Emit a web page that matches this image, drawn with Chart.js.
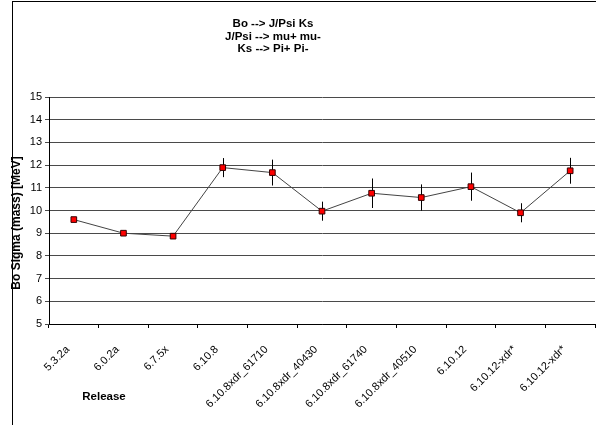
<!DOCTYPE html>
<html><head><meta charset="utf-8">
<script src="https://cdn.jsdelivr.net/npm/chart.js@4"></script>
<style>html,body{margin:0;padding:0;background:#fff;overflow:hidden}#wrap{width:600px;height:425px;position:relative}</style>
</head><body><div id="wrap"><canvas id="c" width="600" height="425"></canvas></div>
<script>
const releases = ['5.3.2a','6.0.2a','6.7.5x','6.10.8','6.10.8xdr_61710','6.10.8xdr_40430','6.10.8xdr_61740','6.10.8xdr_40510','6.10.12','6.10.12-xdr*','6.10.12-xdr*'];
const sigma = [9.6, 9.0, 8.87, 11.89, 11.67, 9.97, 10.76, 10.57, 11.05, 9.9, 11.75];
const sigmaErr = [0, 0, 0, 0.42, 0.57, 0.42, 0.65, 0.58, 0.62, 0.42, 0.57];
const titleLines = ['Bo --> J/Psi Ks', 'J/Psi --> mu+ mu-', 'Ks --> Pi+ Pi-'];
const yTitle = 'Bo Sigma (mass) [MeV]';
const xTitle = 'Release';
const yMin = 5, yMax = 15, yStep = 1;

const FONT = 'Liberation Sans, Arial, sans-serif';

const framePlugin = {
  id: 'frame',
  beforeDraw(chart) {
    const ctx = chart.ctx;
    ctx.save();
    ctx.fillStyle = '#fff';
    ctx.fillRect(0, 0, chart.width, chart.height);
    ctx.strokeStyle = '#000';
    ctx.lineWidth = 1;
    ctx.beginPath();
    ctx.moveTo(12.5, 1.5); ctx.lineTo(12.5, chart.height);
    ctx.moveTo(12, 1.5); ctx.lineTo(chart.width, 1.5);
    ctx.stroke();
    ctx.restore();
  }
};

const errPlugin = {
  id: 'errbars',
  beforeDatasetsDraw(chart) {
    const ctx = chart.ctx, xs = chart.scales.x, ys = chart.scales.y;
    ctx.save();
    ctx.strokeStyle = '#000';
    ctx.lineWidth = 1;
    sigma.forEach((v, i) => {
      const e = sigmaErr[i];
      if (!e) return;
      const x = Math.round(xs.getPixelForValue(i)) + 0.5;
      ctx.beginPath();
      ctx.moveTo(x, ys.getPixelForValue(v + e));
      ctx.lineTo(x, ys.getPixelForValue(v - e));
      ctx.stroke();
    });
    ctx.restore();
  }
};

const textPlugin = {
  id: 'texts',
  afterDraw(chart) {
    const ctx = chart.ctx;
    ctx.save();
    ctx.fillStyle = '#000';
    ctx.font = 'bold 11.5px ' + FONT;
    ctx.textAlign = 'center';
    ctx.textBaseline = 'alphabetic';
    titleLines.forEach((t, i) => ctx.fillText(t, 273, 27 + i * 12.7));
    ctx.fillText(xTitle, 104, 400);
    ctx.font = 'bold 12px ' + FONT;
    ctx.translate(19.5, 223);
    ctx.rotate(-Math.PI / 2);
    ctx.fillText(yTitle, 0, 0);
    ctx.restore();
  }
};

new Chart(document.getElementById('c'), {
  type: 'line',
  data: {
    labels: releases,
    datasets: [{
      data: sigma,
      borderColor: '#444',
      borderWidth: 1,
      pointStyle: 'rect',
      pointRadius: 4,
      pointBackgroundColor: '#ff0000',
      pointBorderColor: '#300',
      pointBorderWidth: 1,
      tension: 0,
      fill: false
    }]
  },
  options: {
    responsive: false,
    animation: false,
    devicePixelRatio: 1,
    layout: { padding: { top: 97, left: 0, right: 2, bottom: 0 } },
    plugins: { legend: { display: false }, tooltip: { enabled: false }, title: { display: false } },
    scales: {
      x: {
        type: 'category',
        offset: true,
        grid: { offset: true, drawOnChartArea: false, drawTicks: true, tickLength: 4, color: '#000' },
        border: { color: '#000' },
        ticks: { autoSkip: false, minRotation: 45, maxRotation: 45, padding: 15, labelOffset: -6, color: '#000', font: { size: 11, family: FONT } },
        afterFit(s) { s.height = 101; }
      },
      y: {
        min: yMin, max: yMax,
        grid: { color: '#4a4a4a', tickLength: 4 },
        border: { color: '#000' },
        ticks: { stepSize: yStep, padding: 3, color: '#000', font: { size: 11, family: FONT } },
        afterFit(s) { s.width = 49; }
      }
    }
  },
  plugins: [framePlugin, errPlugin, textPlugin]
});
</script>
</body></html>
